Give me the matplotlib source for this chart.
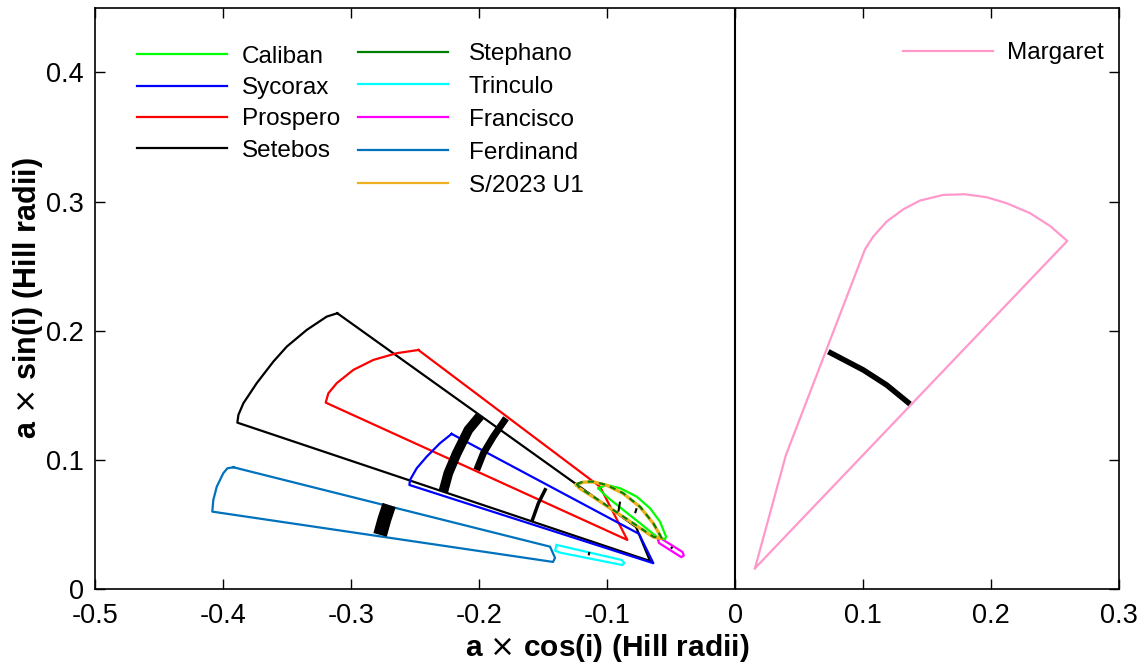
import matplotlib
matplotlib.use('Agg')
import matplotlib.pyplot as plt
from matplotlib.lines import Line2D
import numpy as np

plt.rcParams['font.family'] = ['Liberation Sans', 'DejaVu Sans']
plt.rcParams['mathtext.fontset'] = 'dejavusans'

# outlines of the stability regions, (a cos i, a sin i) in Hill radii
caliban = [(-0.1068, 0.0783), (-0.1003, 0.0808), (-0.0898, 0.0783), (-0.0768, 0.0718),
           (-0.0664, 0.0628), (-0.0586, 0.0524), (-0.0539, 0.0408), (-0.0547, 0.0388),
           (-0.0612, 0.0408), (-0.0742, 0.0512), (-0.0873, 0.0615), (-0.1003, 0.0718)]
sycorax = [(-0.2214, 0.1203), (-0.2305, 0.1131), (-0.2409, 0.1027), (-0.2487, 0.0937),
           (-0.2539, 0.0847), (-0.2544, 0.0808), (-0.0638, 0.0203), (-0.0750, 0.0430)]
prospero = [(-0.2474, 0.1852), (-0.2643, 0.1827), (-0.2826, 0.1775), (-0.2982, 0.1698),
            (-0.3112, 0.1595), (-0.3177, 0.1517), (-0.3198, 0.1445), (-0.0841, 0.0383),
            (-0.1055, 0.0795)]
setebos = [(-0.3107, 0.2136), (-0.3190, 0.2110), (-0.3346, 0.2007), (-0.3502, 0.1878),
           (-0.3607, 0.1762), (-0.3737, 0.1595), (-0.3841, 0.1440), (-0.3880, 0.1350),
           (-0.3888, 0.1290), (-0.0664, 0.0220), (-0.0773, 0.0483)]
stephano = [(-0.1237, 0.0816), (-0.1185, 0.0834), (-0.1107, 0.0834), (-0.1003, 0.0808),
            (-0.0873, 0.0744), (-0.0742, 0.0640), (-0.0638, 0.0512), (-0.0586, 0.0421),
            (-0.0573, 0.0396), (-0.0638, 0.0408), (-0.0794, 0.0512), (-0.0951, 0.0615),
            (-0.1107, 0.0718), (-0.1211, 0.0783)]
trinculo = [(-0.1393, 0.0344), (-0.1406, 0.0300), (-0.1367, 0.0285), (-0.0880, 0.0189),
            (-0.0865, 0.0205), (-0.0885, 0.0228)]
francisco = [(-0.0600, 0.0385), (-0.0580, 0.0395), (-0.0410, 0.0290), (-0.0400, 0.0262),
             (-0.0420, 0.0250), (-0.0595, 0.0360)]
ferdinand = [(-0.3919, 0.0945), (-0.3966, 0.0937), (-0.3998, 0.0899), (-0.4049, 0.0795),
             (-0.4076, 0.0692), (-0.4084, 0.0602), (-0.1422, 0.0213), (-0.1406, 0.0244),
             (-0.1445, 0.0331)]
s2023u1 = [(-0.1240, 0.0810), (-0.1185, 0.0830), (-0.1107, 0.0832), (-0.1003, 0.0806),
           (-0.0873, 0.0742), (-0.0742, 0.0638), (-0.0638, 0.0510), (-0.0586, 0.0419),
           (-0.0575, 0.0394), (-0.0640, 0.0406), (-0.0796, 0.0510), (-0.0953, 0.0613),
           (-0.1109, 0.0716), (-0.1213, 0.0781)]
margaret = [(0.0156, 0.0164), (0.0398, 0.1040), (0.1016, 0.2631), (0.1080, 0.2729),
            (0.1185, 0.2845), (0.1315, 0.2940), (0.1445, 0.3007), (0.1627, 0.3051),
            (0.1797, 0.3056), (0.1966, 0.3033), (0.2122, 0.2987), (0.2305, 0.2910),
            (0.2461, 0.2811), (0.2596, 0.2695)]

# present-day orbits (black arcs) and their drawn widths
arcs = [
    ([(-0.1992, 0.1342), (-0.2083, 0.1234), (-0.2174, 0.1053), (-0.2240, 0.0899), (-0.2279, 0.0757)], 7),
    ([(-0.1789, 0.1324), (-0.1888, 0.1182), (-0.1966, 0.1053), (-0.2018, 0.0924)], 5),
    ([(-0.1477, 0.0783), (-0.1536, 0.0667), (-0.1588, 0.0524)], 2.5),
    ([(-0.2702, 0.0653), (-0.2740, 0.0540), (-0.2773, 0.0422)], 10),
    ([(-0.0898, 0.0679), (-0.0911, 0.0602)], 1.5),
    ([(-0.0768, 0.0628), (-0.0781, 0.0590)], 1.5),
    ([(-0.1138, 0.0290), (-0.1143, 0.0264)], 1.5),
    ([(-0.0490, 0.0330), (-0.0500, 0.0315)], 1.5),
    ([(0.0729, 0.1839), (0.1003, 0.1697), (0.1185, 0.1581), (0.1367, 0.1434)], 4),
]

left_names = ['Caliban', 'Sycorax', 'Prospero', 'Setebos']
left_colors = ['#00ff00', '#0000ff', '#ff0000', 'black']
right_names = ['Stephano', 'Trinculo', 'Francisco', 'Ferdinand', 'S/2023 U1']
right_colors = ['#008000', '#00ffff', '#ff00ff', '#0072bd', '#edb120']


def closed(pts):
    arr = np.array(pts + [pts[0]])
    return arr[:, 0], arr[:, 1]


fig = plt.figure(figsize=(11.41, 6.71), dpi=100)
ax = fig.add_axes([0.0833, 0.1215, 0.8974, 0.8673])

ax.axvline(0, color='black', lw=1.5, zorder=1)

draw_order = [(ferdinand, '#0072bd'), (setebos, 'black'), (prospero, '#ff0000'),
              (sycorax, '#0000ff'), (trinculo, '#00ffff'), (francisco, '#ff00ff'),
              (caliban, '#00ff00'), (margaret, '#ff99cc')]
for pts, c in draw_order:
    x, y = closed(pts)
    ax.plot(x, y, color=c, lw=1.6, zorder=2)

x, y = closed(s2023u1)
ax.plot(x, y, color='#edb120', lw=2.4, zorder=3)
x, y = closed(stephano)
ax.plot(x, y, color='#008000', lw=1.5, ls=(0, (3, 2.5)), zorder=4)

for pts, w in arcs:
    arr = np.array(pts)
    ax.plot(arr[:, 0], arr[:, 1], color='black', lw=w, solid_capstyle='butt', zorder=5)

ax.set_xlim(-0.5, 0.3)
ax.set_ylim(0, 0.45)
xt = np.round(np.arange(-0.5, 0.31, 0.1), 1)
ax.set_xticks(xt)
ax.set_xticklabels(['0' if v == 0 else f'{v:g}' for v in xt])
yt = np.round(np.arange(0, 0.41, 0.1), 1)
ax.set_yticks(yt)
ax.set_yticklabels(['0' if v == 0 else f'{v:g}' for v in yt])
ax.tick_params(direction='in', length=7, width=1, top=True, right=True, labelsize=19.5)
ax.tick_params(axis='x', pad=10)
ax.tick_params(axis='y', pad=8)
for s in ax.spines.values():
    s.set_linewidth(1.2)

ax.set_xlabel(r'a $\times$ cos(i) (Hill radii)', fontsize=21.5, fontweight='bold', labelpad=2)
ax.set_ylabel(r'a $\times$ sin(i) (Hill radii)', fontsize=22, fontweight='bold', labelpad=1)

h1 = [Line2D([], [], color=c, lw=1.6) for c in left_colors]
h2 = [Line2D([], [], color=c, lw=1.6) for c in right_colors]
leg_kw = dict(frameon=False, fontsize=17.5, handlelength=3.7, borderpad=0, borderaxespad=0,
              loc='upper left')
leg1 = ax.legend(h1, left_names, bbox_to_anchor=(0.041, 0.934), labelspacing=0.38,
                 handletextpad=0.6, **leg_kw)
ax.add_artist(leg1)
leg2 = ax.legend(h2, right_names, bbox_to_anchor=(0.257, 0.939), labelspacing=0.45,
                 handletextpad=0.85, **leg_kw)
ax.add_artist(leg2)
ax.legend([Line2D([], [], color='#ff99cc', lw=1.6)], ['Margaret'],
          bbox_to_anchor=(0.789, 0.940), handletextpad=0.57, **leg_kw)

fig.savefig('out.png', dpi=100)
